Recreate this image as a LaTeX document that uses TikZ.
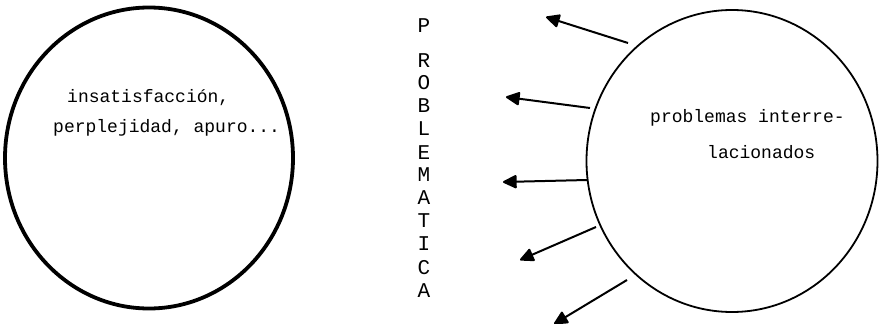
\documentclass[tikz,border=0pt]{standalone}
\usepackage{fontspec}
\usetikzlibrary{shapes.geometric,arrows.meta}
\newfontfamily\twfont{Liberation Mono}
\begin{document}
\begin{tikzpicture}[x=1pt,y=-1pt,
  bigcirc/.style={ellipse,draw,inner sep=0pt},
  txt/.style={inner sep=0pt,anchor=base west,font=\twfont\fontsize{18}{20}\selectfont},
  letter/.style={inner sep=0pt,anchor=base,font=\twfont\fontsize{21}{22}\selectfont},
  outarrow/.style={line width=2pt,-{Triangle[length=15pt,width=14pt,round]}}]
\useasboundingbox (0,0) rectangle (881,324);
\fill[white] (0,0) rectangle (881,324);
% left circle
\node[bigcirc,line width=3.8pt,minimum width=288pt,minimum height=301pt] (L) at (149,158) {};
\node[txt] (l1) at (67,102) {insatisfacción,};
\node[txt] (l2) at (53,132) {perplejidad, apuro...};
% vertical word
\foreach \ch/\yy [count=\i] in {P/25,R/60,O/82,B/105,L/128,E/152,M/174,A/197,T/220,I/243,C/267,A/290}{
  \node[letter] (w\i) at (424,\yy+7) {\ch};
}
% right circle
\node[bigcirc,line width=1.8pt,minimum width=291pt,minimum height=302pt] (R) at (732,161) {};
\node[txt] (r1) at (650,122) {problemas interre-};
\node[txt] (r2) at (707,158) {lacionados};
% arrows
\coordinate (t1) at (628,43);  \coordinate (h1) at (546,17);
\coordinate (t2) at (590,108); \coordinate (h2) at (506,97);
\coordinate (t3) at (587,180); \coordinate (h3) at (503,182);
\coordinate (t4) at (596,227); \coordinate (h4) at (520,260);
\coordinate (t5) at (627,280); \coordinate (h5) at (554,324);
\foreach \i in {1,...,5}{\draw[outarrow] (t\i) -- (h\i);}
\end{tikzpicture}
\end{document}
